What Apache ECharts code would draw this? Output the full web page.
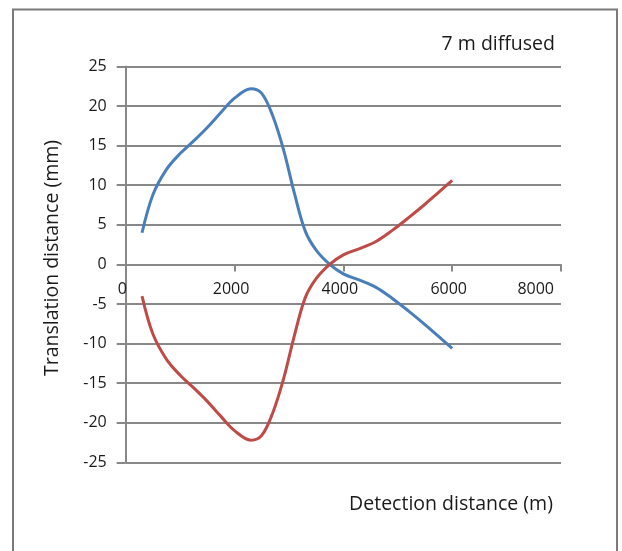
<!DOCTYPE html>
<html>
<head>
<meta charset="utf-8">
<script src="https://cdn.jsdelivr.net/npm/echarts@6/dist/echarts.min.js"></script>
<style>
  html, body { margin: 0; padding: 0; background: #fff; }
  #chart { width: 622px; height: 551px; }
</style>
</head>
<body>
<div id="chart"></div>
<script>
// Detection distance (m) at which translation was measured
const distances = [300, 500, 750, 1000, 1250, 1500, 1750, 2000, 2300, 2500, 2700, 2900,
                   3100, 3300, 3500, 3750, 4000, 4300, 4600, 4900, 5200, 5500, 5750, 6000];
// Translation distance (mm), upper branch
const upperTranslation = [4.0, 8.8, 12.0, 14.0, 15.6, 17.3, 19.2, 21.0, 22.2, 21.6, 18.8, 14.5,
                          9.0, 4.2, 1.8, 0.0, -1.2, -2.0, -2.9, -4.3, -5.9, -7.6, -9.1, -10.6];
// Translation distance (mm), lower branch
const lowerTranslation = [-4.0, -8.8, -12.0, -14.0, -15.6, -17.3, -19.2, -21.0, -22.2, -21.6, -18.8, -14.5,
                          -9.0, -4.2, -1.8, 0.0, 1.2, 2.0, 2.9, 4.3, 5.9, 7.6, 9.1, 10.6];

const titleText = '7 m diffused';
const xAxisTitle = 'Detection distance (m)';
const yAxisTitle = 'Translation distance (mm)';

const FONT = '"Open Sans", sans-serif';
const GRID_GRAY = '#888888';
const TEXT_COLOR = '#1a1a1a';

// plot box (px)
const PLOT_TOP = 66.5;
const PLOT_BOTTOM = 462.3;
const Y_MIN = -25, Y_MAX = 25;
// the x axis sits on y = 0, so shift it up from the plot bottom
const xAxisOffset = -(PLOT_BOTTOM - PLOT_TOP) * (0 - Y_MIN) / (Y_MAX - Y_MIN);

const pairs = (xs, ys) => xs.map((x, i) => [x, ys[i]]);

const chart = echarts.init(document.getElementById('chart'), null, { renderer: 'canvas' });

chart.setOption({
  animation: false,
  backgroundColor: '#ffffff',
  textStyle: { fontFamily: FONT },
  title: {
    text: titleText,
    right: 62,
    top: 29,
    textStyle: { fontFamily: FONT, fontSize: 19.5, fontWeight: 'normal', color: TEXT_COLOR }
  },
  grid: { left: 125.7, right: 61, top: PLOT_TOP, bottom: 551 - PLOT_BOTTOM },
  xAxis: {
    type: 'value',
    min: 0,
    max: 8000,
    interval: 2000,
    offset: xAxisOffset,
    axisLine: { onZero: false, lineStyle: { color: GRID_GRAY, width: 2 } },
    axisTick: { show: true, length: 7, lineStyle: { color: GRID_GRAY, width: 2 } },
    splitLine: { show: false },
    axisLabel: {
      margin: 17,
      fontFamily: FONT,
      fontSize: 16,
      color: TEXT_COLOR,
      padding: [0, 7, 0, 0],
      alignMaxLabel: 'right',
      formatter: v => String(v)
    }
  },
  yAxis: {
    type: 'value',
    min: Y_MIN,
    max: Y_MAX,
    interval: 5,
    axisLine: { show: true, onZero: true, lineStyle: { color: GRID_GRAY, width: 2 } },
    axisTick: { show: true, length: 9, lineStyle: { color: GRID_GRAY, width: 2 } },
    splitLine: { show: true, lineStyle: { color: GRID_GRAY, width: 2 } },
    axisLabel: {
      margin: 19,
      fontFamily: FONT,
      fontSize: 16,
      color: TEXT_COLOR,
      formatter: v => String(v)
    }
  },
  graphic: [
    {
      type: 'rect',
      shape: { x: 13, y: 9.5, width: 604, height: 560 },
      style: { fill: 'none', stroke: '#7a7a7a', lineWidth: 2 },
      silent: true
    },
    {
      type: 'text',
      x: 451,
      y: 504,
      style: {
        text: xAxisTitle,
        font: '19.5px ' + FONT,
        fill: TEXT_COLOR,
        align: 'center',
        verticalAlign: 'middle'
      }
    },
    {
      type: 'text',
      x: 52,
      y: 258,
      rotation: Math.PI / 2,
      style: {
        text: yAxisTitle,
        font: '19.5px ' + FONT,
        fill: TEXT_COLOR,
        align: 'center',
        verticalAlign: 'middle'
      }
    }
  ],
  series: [
    {
      type: 'line',
      data: pairs(distances, upperTranslation),
      smooth: 0.35,
      showSymbol: false,
      lineStyle: { color: '#4A7EBB', width: 3 },
      z: 3
    },
    {
      type: 'line',
      data: pairs(distances, lowerTranslation),
      smooth: 0.35,
      showSymbol: false,
      lineStyle: { color: '#BE4B48', width: 3 },
      z: 3
    }
  ]
});
</script>
</body>
</html>
